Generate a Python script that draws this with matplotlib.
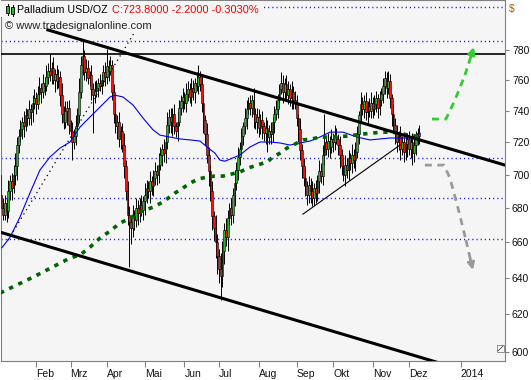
import numpy as np
import pandas as pd
import matplotlib
matplotlib.use("Agg")
import matplotlib.pyplot as plt
from matplotlib.patches import Rectangle
from matplotlib.lines import Line2D
from matplotlib.ticker import FixedLocator, FixedFormatter, NullLocator

plt.rcParams["font.family"] = ["Liberation Sans", "DejaVu Sans"]

# daily bars, 2013-01-03 .. 2013-12-10
dates = pd.bdate_range("2013-01-03", "2013-12-10")
first_open = 700
closes = [
    688, 680, 676, 683, 678, 690, 696, 692, 700, 705,
    718, 724, 728, 733, 730, 737, 735, 741, 739, 745,
    748, 744, 751, 755, 752, 758, 756, 762, 766, 763,
    768, 760, 764, 759, 762, 750, 738, 733, 740, 742,
    731, 727, 720, 724, 730, 737, 752, 770, 776, 765,
    768, 761, 763, 754, 750, 753, 755, 758, 756, 760,
    765, 762, 769, 766, 770, 752, 738, 730, 733, 722,
    727, 718, 705, 690, 676, 672, 668, 675, 673, 680,
    677, 682, 679, 684, 688, 692, 690, 696, 693, 698,
    702, 700, 706, 712, 716, 713, 720, 731, 736, 733,
    738, 730, 727, 733, 742, 746, 749, 745, 751, 754,
    749, 755, 752, 758, 756, 762, 757, 745, 734, 725,
    712, 702, 690, 675, 668, 660, 652, 645, 641, 655,
    667, 663, 674, 680, 676, 688, 695, 703, 711, 716,
    724, 730, 735, 741, 745, 742, 747, 738, 733, 736,
    729, 734, 730, 726, 729, 723, 727, 725, 733, 738,
    741, 747, 754, 758, 752, 757, 750, 754, 748, 752,
    747, 745, 735, 728, 715, 705, 698, 693, 688, 694,
    690, 686, 692, 689, 696, 702, 699, 712, 720, 716,
    721, 717, 722, 720, 724, 722, 718, 712, 705, 700,
    706, 703, 710, 707, 712, 709, 714, 725, 737, 744,
    741, 746, 739, 743, 740, 745, 741, 744, 748, 742,
    747, 751, 756, 761, 755, 759, 748, 738, 731, 726,
    720, 724, 716, 720, 714, 719, 722, 716, 720, 713,
    718, 722, 726, 723.8,
]
wick_up = [
    3, 4, 6, 5, 3, 7, 4, 5, 6, 8,
    5, 4, 6, 3, 7, 5, 4, 6, 3, 5,
    6, 4, 5, 7, 3, 6, 4, 8, 5, 11,
    4, 7, 3, 6, 5, 4, 8, 5, 6, 4,
    5, 3, 6, 4, 7, 5, 9, 6, 11, 4,
    6, 5, 3, 7, 4, 6, 5, 3, 6, 4,
    5, 7, 12, 4, 6, 3, 5, 7, 4, 6,
    3, 5, 8, 4, 6, 5, 3, 7, 4, 6,
    5, 4, 6, 3, 7, 5, 4, 6, 3, 5,
    6, 4, 7, 5, 3, 6, 4, 8, 5, 6,
    4, 6, 3, 7, 5, 4, 6, 3, 7, 5,
    4, 6, 5, 3, 7, 8, 4, 6, 5, 3,
    7, 5, 4, 6, 3, 8, 5, 4, 9, 6,
    4, 7, 5, 3, 6, 4, 8, 5, 6, 4,
    5, 3, 7, 6, 4, 5, 3, 8, 4, 6,
    5, 4, 6, 3, 7, 5, 4, 6, 3, 5,
    6, 4, 3, 7, 5, 4, 6, 5, 3, 7,
    4, 6, 5, 3, 7, 4, 5, 6, 3, 5,
    4, 6, 3, 5, 4, 7, 5, 6, 18, 4,
    5, 3, 6, 4, 7, 5, 3, 6, 4, 5,
    6, 4, 5, 3, 7, 4, 6, 5, 3, 8,
    5, 4, 6, 3, 5, 7, 4, 6, 5, 3,
    6, 4, 5, 5, 4, 7, 5, 3, 6, 4,
    5, 3, 6, 4, 5, 7, 4, 5, 3, 6,
    4, 5, 3, 5,
]
wick_dn = [
    4, 5, 3, 3, 6, 4, 5, 7, 3, 6,
    8, 5, 4, 6, 7, 3, 5, 4, 8, 6,
    4, 6, 3, 5, 7, 4, 6, 3, 5, 4,
    6, 3, 8, 5, 4, 7, 6, 5, 4, 9,
    6, 5, 11, 4, 6, 3, 5, 4, 7, 5,
    6, 4, 5, 7, 24, 5, 4, 6, 3, 5,
    4, 6, 5, 7, 3, 5, 6, 4, 8, 5,
    6, 4, 7, 5, 6, 26, 9, 5, 6, 4,
    7, 5, 4, 6, 8, 5, 4, 7, 5, 6,
    4, 6, 5, 3, 7, 5, 6, 4, 5, 7,
    9, 5, 4, 6, 3, 5, 7, 4, 6, 5,
    4, 6, 5, 7, 3, 5, 4, 6, 8, 7,
    5, 9, 6, 8, 7, 9, 10, 8, 13, 6,
    7, 5, 8, 4, 6, 5, 7, 4, 6, 5,
    4, 6, 5, 7, 3, 5, 6, 9, 5, 7,
    6, 4, 8, 5, 7, 9, 4, 6, 5, 7,
    4, 6, 5, 3, 7, 5, 4, 6, 5, 7,
    6, 4, 5, 8, 6, 7, 5, 6, 6, 5,
    7, 5, 4, 6, 5, 7, 4, 5, 6, 4,
    5, 7, 4, 6, 5, 3, 6, 8, 5, 4,
    7, 5, 6, 4, 6, 5, 7, 4, 6, 5,
    4, 6, 5, 7, 4, 5, 6, 4, 5, 7,
    5, 4, 6, 5, 7, 4, 6, 8, 5, 7,
    6, 5, 7, 4, 6, 5, 8, 4, 6, 7,
    5, 6, 4, 5,
]

# moving averages (bar index, price)
ma_fast_x = [1.3, 6, 11.7, 17.5, 23.3, 29.1, 34.9, 40.7, 46.5, 52.3, 58.1, 63.9, 66.7,
             71.4, 77.2, 83, 88.8, 92.8, 98.6, 104.4, 110.2, 116, 120, 124.6, 127.5,
             130.4, 139.1, 144.9, 150.7, 156.5, 162.3, 168.1, 173.9, 179.7, 185.4,
             191.2, 198.8, 206.9, 214.4, 226, 237.6, 243.4]
ma_fast_y = [657.0, 663.0, 674.6, 688.9, 702.8, 710.8, 716.3, 720.1, 729.5, 735.9, 742.3,
             748.8, 750.0, 748.8, 743.6, 735.2, 727.7, 724.4, 723.2, 722.0, 721.4, 720.7,
             717.0, 713.2, 708.9, 708.2, 712.0, 717.0, 720.1, 720.1, 719.5, 718.2, 719.5,
             720.7, 723.2, 726.3, 726.3, 723.2, 721.4, 722.6, 722.6, 725.7]
ma_slow_x = [0.2, 20.4, 40.7, 46.5, 52.3, 58.1, 63.9, 69.6, 75.4, 81.2, 88.8, 94.5,
             101.5, 106.1, 110.2, 114.8, 120, 124.6, 129.3, 134.5, 139.1, 143.8, 149,
             154.8, 157.6, 162.3, 166.3, 171, 175.6, 180.8, 185.4, 191.2, 201.1, 210.3,
             221.3, 226, 231.8, 236.4, 241.6]
ma_slow_y = [631.6, 640.9, 651.1, 652.8, 657.3, 662.5, 666.5, 671.1, 674.0, 677.6, 680.5,
             683.5, 688.9, 691.9, 694.8, 697.3, 698.5, 699.1, 699.1, 700.4, 701.6, 704.0,
             705.8, 707.7, 710.2, 713.2, 716.3, 718.8, 721.4, 722.0, 723.2, 723.2, 723.8,
             725.1, 726.3, 726.3, 725.7, 724.4, 723.8]

# drawn lines (bar index, price)
upper_x, upper_y = [27.9, 292.6], [793.7, 705.8]
lower_x, lower_y = [0.2, 254.9], [665.9, 594.3]
support_x, support_y = [175.6, 231.8], [676.4, 718.2]
dotted_x, dotted_y = [4.8, 78.0], [661.3, 792.0]
bull_x = [250.3, 258.4, 263.6, 269.4, 274.6]
bull_y = [734.6, 734.6, 746.8, 763.2, 782.0]
bear_x = [246.2, 257.3, 260.7, 265.4, 270.0, 274.0]
bear_y = [705.8, 705.8, 697.9, 679.9, 661.3, 644.3]

grid_levels = [810, 786, 710, 686, 662]
resist_level = 777
y_ticks = [600, 620, 640, 660, 680, 700, 720, 740, 760, 780]
month_names = ["Feb", "Mrz", "Apr", "Mai", "Jun", "Jul", "Aug", "Sep", "Okt", "Nov", "Dez"]

bg = "#F5F5F5"
W, H = 531, 380
fig = plt.figure(figsize=(W / 100, H / 100), dpi=100)
ax = fig.add_axes([1 / W, 19 / H, 504 / W, 361 / H])
ax.set_facecolor(bg)
ax.set_yscale("log")

x = np.arange(len(closes))
c = np.array(closes, dtype=float)
o = np.concatenate([[first_open], c[:-1]])
top = np.maximum(o, c)
bot = np.minimum(o, c)
hi = top + np.array(wick_up)
lo = bot - np.array(wick_dn)
cols = np.where(c >= o, "#2DB52D", "#FF1010")

for lv in grid_levels:
    ax.axhline(lv, color="#1010E0", lw=1.0, ls=(0, (0.8, 2.2)), zorder=1)
ax.axhline(resist_level, color="black", lw=1.2, zorder=5)

ax.vlines(x, lo, hi, color="black", lw=0.7, zorder=2)
ax.bar(x, top - bot, bottom=bot, width=1.0, color=cols, edgecolor="black", linewidth=0.4, zorder=3)

ax.plot(ma_fast_x, ma_fast_y, color="#0000F0", lw=0.8, zorder=4)
ax.plot(ma_slow_x, ma_slow_y, color="#006400", lw=2.6, ls=(0, (1.2, 1.6)), zorder=4)

ax.plot(upper_x, upper_y, color="black", lw=2.2, zorder=5)
ax.plot(lower_x, lower_y, color="black", lw=2.2, zorder=5)
ax.plot(support_x, support_y, color="black", lw=0.8, zorder=5)
ax.plot(dotted_x, dotted_y, color="black", lw=0.9, ls=(0, (1, 3)), zorder=5)

# forecast arrows
for px, py, col in [(bull_x, bull_y, "#33CC33"), (bear_x, bear_y, "#9A9A9A")]:
    ax.plot(px[:-1], py[:-1], color=col, lw=2.0, ls=(0, (2.5, 2)), zorder=5)
    t = 0.45
    mx = px[-2] + (px[-1] - px[-2]) * t
    my = py[-2] * (py[-1] / py[-2]) ** t
    ax.plot([px[-2], mx], [py[-2], my], color=col, lw=2.0, ls=(0, (2.5, 2)), zorder=5)
    ax.annotate("", xy=(px[-1], py[-1]), xytext=(mx, my),
                arrowprops=dict(arrowstyle="-|>", color=col, lw=2.0,
                                mutation_scale=10, shrinkA=0, shrinkB=0), zorder=6)

ax.set_xlim(0.74, 292.6)
ax.set_ylim(595.4, 814.6)

# month ticks: first bar of each month, 2014 in calendar days after Dez
month_pos = [i for i in range(1, len(dates)) if dates[i].month != dates[i - 1].month]
pos_2014 = month_pos[-1] + (pd.Timestamp("2014-01-01") - dates[month_pos[-1]]).days
ax.set_xticks(month_pos + [pos_2014])
ax.set_xticklabels(month_names + ["2014"])
for lab in ax.get_xticklabels():
    lab.set_ha("left")
ax.tick_params(axis="x", length=4, width=0.8, color="#808080", pad=1.5,
               labelsize=7.5, labelcolor="#111111")

ax.yaxis.tick_right()
ax.yaxis.set_major_locator(FixedLocator(y_ticks))
ax.yaxis.set_major_formatter(FixedFormatter([str(v) for v in y_ticks]))
ax.yaxis.set_minor_locator(NullLocator())
ax.tick_params(axis="y", length=3, width=0.8, color="#808080", pad=2,
               labelsize=7.5, labelcolor="#111111")

for sp in ax.spines.values():
    sp.set_color("#808080")
    sp.set_linewidth(0.8)

# header
fig.add_artist(Rectangle((1 / W, 1 - 17 / H), 260 / W, 16 / H, transform=fig.transFigure,
                         facecolor=bg, edgecolor="none", zorder=2))
for x0, y0, y1, w0, w1 in [(6, 6, 13, 4, 15), (11, 7, 14, 5, 16)]:
    fig.add_artist(Line2D([(x0 + 1.5) / W] * 2, [1 - w1 / H, 1 - w0 / H],
                          transform=fig.transFigure, color="black", lw=0.7, zorder=3))
    fig.add_artist(Rectangle((x0 / W, 1 - y1 / H), 3 / W, (y1 - y0) / H, transform=fig.transFigure,
                             facecolor="#2DB52D", edgecolor="black", lw=0.6, zorder=4))
name_txt = fig.text(17 / W, 1 - 10 / H, "Palladium USD/OZ", fontsize=7.7, va="center",
                    color="black", zorder=5)
fig.canvas.draw()
name_end = name_txt.get_window_extent().x1
chg = closes[-1] - closes[-2]
fig.text((name_end + 4) / W, 1 - 10 / H,
         f"C:{closes[-1]:.4f} {chg:.4f} {chg / closes[-2] * 100:.4f}%",
         fontsize=7.9, va="center", color="#EE0000", zorder=5)
fig.text(5 / W, 1 - 26 / H, "\u00a9 www.tradesignalonline.com", fontsize=8, va="center",
         color="#222222", zorder=5)
fig.text(509 / W, 1 - 9 / H, "$", fontsize=7.5, va="center", color="#A0600A")

# resize glyph in the corner
fig.add_artist(Rectangle((497 / W, 1 - 352 / H), 7 / W, 7 / H, transform=fig.transFigure,
                         facecolor="white", edgecolor="#808080", lw=0.6, zorder=3))
fig.add_artist(Line2D([498 / W, 503 / W], [1 - 351 / H, 1 - 346 / H], transform=fig.transFigure,
                      color="#404040", lw=0.6, zorder=4))

fig.savefig("out.png", dpi=100)
